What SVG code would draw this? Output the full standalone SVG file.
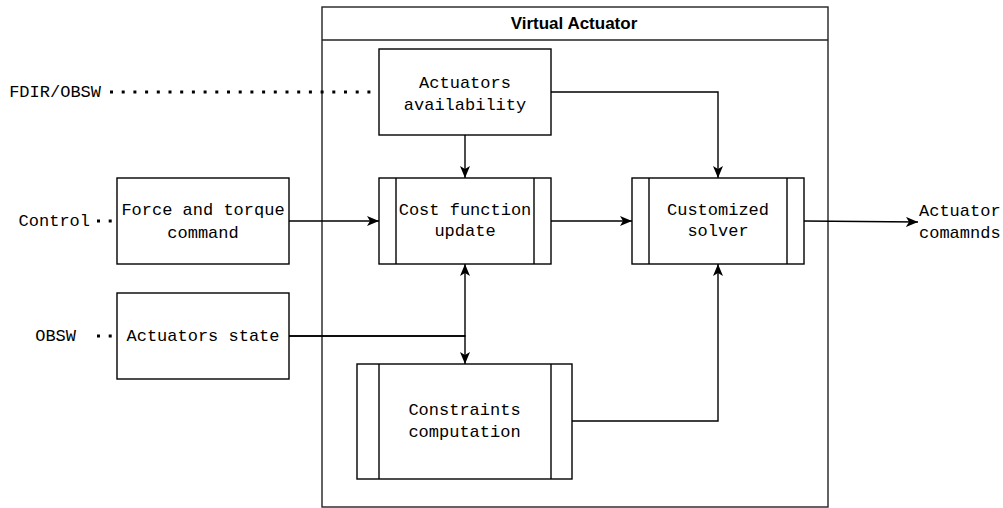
<svg xmlns="http://www.w3.org/2000/svg" width="1003" height="508" viewBox="0 0 1003 508">
<style>
.box{fill:#fff;stroke:#000;stroke-width:1.4}
.cont{fill:none;stroke:#222;stroke-width:1.4}
.t{font-family:"Liberation Mono","Courier New",monospace;font-size:17px;fill:#000}
.h{font-family:"Liberation Sans",Arial,sans-serif;font-size:17px;font-weight:bold;fill:#000}
.e{fill:none;stroke:#000;stroke-width:1.4}
.dot{fill:none;stroke:#000;stroke-width:3;stroke-dasharray:3 8.7}
</style>
<defs>
<marker id="arr" viewBox="0 0 12 10" refX="12" refY="5" markerWidth="12" markerHeight="10" markerUnits="userSpaceOnUse" orient="auto">
<path d="M0,0 L12,5 L0,10 L3,5 z" fill="#000"/>
</marker>
</defs>
<g id="container">
<rect class="cont" x="322" y="7" width="506" height="500"/>
<line class="cont" x1="322" y1="40" x2="828" y2="40"/>
<text class="h" x="574" y="29" text-anchor="middle">Virtual Actuator</text>
</g>
<g id="connectors">
<line class="dot" x1="110" y1="92" x2="378" y2="92"/>
<line class="dot" x1="97" y1="221" x2="117" y2="221"/>
<line class="dot" x1="97" y1="336" x2="117" y2="336"/>
<path class="e" d="M289,221 H379" marker-end="url(#arr)"/>
<path class="e" d="M465,135 V178" marker-end="url(#arr)"/>
<path class="e" d="M551,92 H718 V178" marker-end="url(#arr)"/>
<path class="e" d="M551,221 H632" marker-end="url(#arr)"/>
<path class="e" d="M289,336 H465 V264" marker-end="url(#arr)"/>
<path class="e" d="M289,336 H465 V364" marker-end="url(#arr)"/>
<path class="e" d="M572,421 H718 V264" marker-end="url(#arr)"/>
<path class="e" d="M804,221 L918,222" marker-end="url(#arr)"/>
</g>
<g id="label-fdir"><text class="t" x="101" y="97" text-anchor="end">FDIR/OBSW</text></g>
<g id="label-control"><text class="t" x="90" y="226" text-anchor="end">Control</text></g>
<g id="label-obsw"><text class="t" x="76" y="341" text-anchor="end">OBSW</text></g>
<g id="label-out">
<text class="t" x="919" y="216">Actuator</text>
<text class="t" x="919" y="238">comamnds</text>
</g>
<g id="availability">
<rect class="box" x="379" y="49" width="172" height="86"/>
<text class="t" x="465" y="88" text-anchor="middle">Actuators</text>
<text class="t" x="465" y="110" text-anchor="middle">availability</text>
</g>
<g id="force">
<rect class="box" x="117" y="178" width="172" height="86"/>
<text class="t" x="203" y="215" text-anchor="middle">Force and torque</text>
<text class="t" x="203" y="238" text-anchor="middle">command</text>
</g>
<g id="state">
<rect class="box" x="117" y="293" width="172" height="86"/>
<text class="t" x="203" y="341" text-anchor="middle">Actuators state</text>
</g>
<g id="cost">
<rect class="box" x="379" y="178" width="172" height="86"/>
<line class="box" x1="396" y1="178" x2="396" y2="264"/>
<line class="box" x1="534" y1="178" x2="534" y2="264"/>
<text class="t" x="465" y="215" text-anchor="middle">Cost function</text>
<text class="t" x="465" y="236" text-anchor="middle">update</text>
</g>
<g id="solver">
<rect class="box" x="632" y="178" width="172" height="86"/>
<line class="box" x1="649" y1="178" x2="649" y2="264"/>
<line class="box" x1="787" y1="178" x2="787" y2="264"/>
<text class="t" x="718" y="215" text-anchor="middle">Customized</text>
<text class="t" x="718" y="236" text-anchor="middle">solver</text>
</g>
<g id="constraints">
<rect class="box" x="357" y="364" width="215" height="115"/>
<line class="box" x1="379" y1="364" x2="379" y2="479"/>
<line class="box" x1="551" y1="364" x2="551" y2="479"/>
<text class="t" x="464.5" y="415" text-anchor="middle">Constraints</text>
<text class="t" x="464.5" y="437" text-anchor="middle">computation</text>
</g>
</svg>
